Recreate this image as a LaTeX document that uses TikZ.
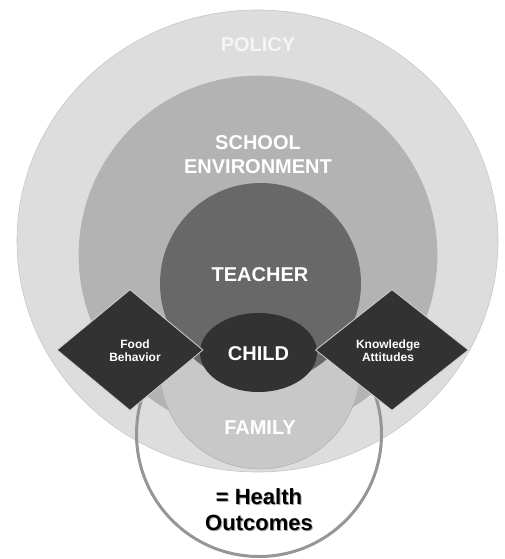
\documentclass[tikz,border=0pt]{standalone}
\usepackage{fontspec}
\setmainfont{Liberation Sans}
\usetikzlibrary{shapes.geometric, positioning}

\definecolor{policygray}{RGB}{221,221,221}
\definecolor{schoolgray}{RGB}{179,179,179}
\definecolor{familygray}{RGB}{200,200,200}
\definecolor{teachergray}{RGB}{104,104,104}
\definecolor{childgray}{RGB}{50,50,50}
\definecolor{outcomegray}{RGB}{150,150,150}

\begin{document}
\begin{tikzpicture}[
    x=1pt, y=-1pt,
    layer/.style={ellipse, inner sep=0pt, line width=0.6pt},
    ringtext/.style={font=\bfseries\fontsize{20}{24}\selectfont, text=white, align=center, inner sep=0pt},
    factor/.style={diamond, inner sep=0pt, minimum height=121pt, fill=childgray, draw=gray!35, line width=0.8pt},
    factortext/.style={font=\bfseries\fontsize{12}{13}\selectfont, text=white, align=center, inner sep=0pt},
    outcometext/.style={font=\bfseries\fontsize{22}{26}\selectfont, align=center, inner sep=0pt}
]
\useasboundingbox (0,0) rectangle (504,559);

% Outer layers
\node[layer, fill=policygray, draw=gray!45, minimum width=481pt, minimum height=462pt] (policy) at (257.5,241) {};
\node[layer, fill=schoolgray, draw=gray!60, minimum width=358pt, minimum height=358pt] (school) at (258,255) {};

% Outcome circle, only its rim shows
\node[circle, draw=outcomegray, line width=3pt, inner sep=0pt, minimum size=245pt] (outcome) at (259,434) {};

% Inner layers
\node[layer, fill=familygray, draw=gray!60, minimum width=200pt, minimum height=200pt] (family) at (260,369) {};
\node[layer, fill=teachergray, minimum width=201pt, minimum height=201pt] (teacher) at (260.5,283.5) {};
\node[layer, fill=childgray, minimum width=117pt, minimum height=79pt] (child) at (258.5,352.5) {};

% Factors on both sides of the child
\node[factor, minimum width=146pt] (food) at (130,350) {};
\node[factor, minimum width=153pt] (knowledge) at (392,350) {};

% Texts
\node[ringtext, text=white!96!black] (policytext) at (258,45) {POLICY};
\node[ringtext] (schooltext) at (258,155) {SCHOOL\\ENVIRONMENT};
\node[ringtext] (teachertext) at (260,275) {TEACHER};
\node[ringtext] (childtext) at (258.5,354) {CHILD};
\node[ringtext] (familytext) at (260,428) {FAMILY};
\node[factortext] (foodtext) at (135,351) {Food\\Behavior};
\node[factortext] (knowledgetext) at (388,351) {Knowledge\\Attitudes};

\node[outcometext, text=gray!70] (outcomeshadow) at (260,511) {= Health\\Outcomes};
\node[outcometext] (outcometext) at (259,510) {= Health\\Outcomes};

\end{tikzpicture}
\end{document}
